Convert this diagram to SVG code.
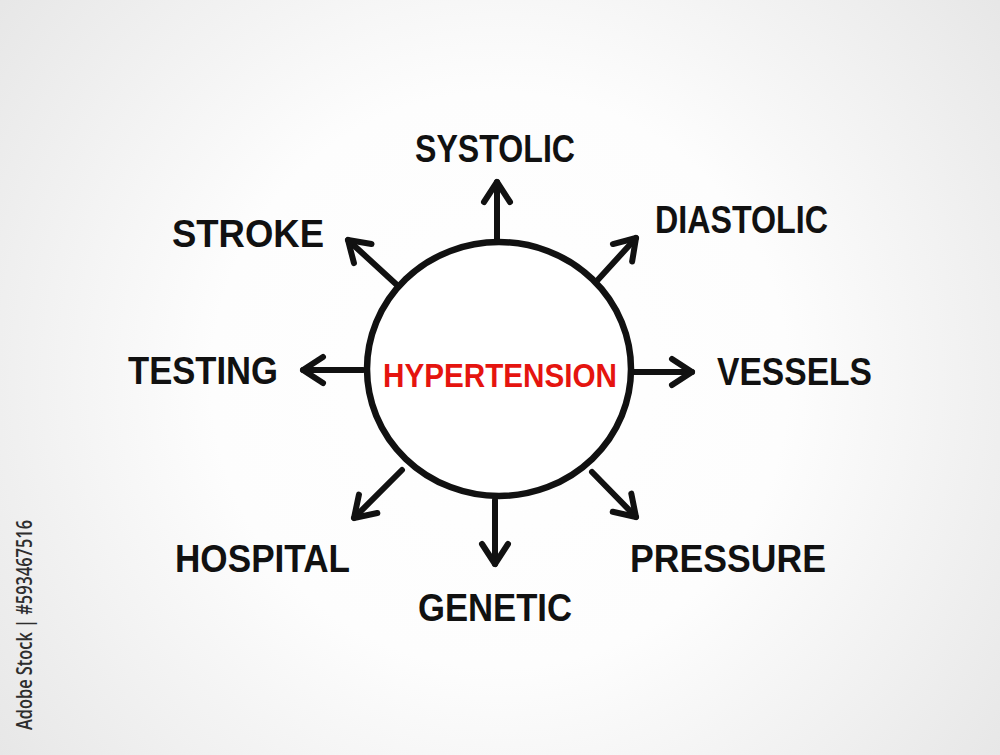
<svg xmlns="http://www.w3.org/2000/svg" width="1000" height="755" viewBox="0 0 1000 755">
  <defs>
    <radialGradient id="bg" cx="500" cy="380" r="640" gradientUnits="userSpaceOnUse">
      <stop offset="0" stop-color="#ffffff"/>
      <stop offset="0.45" stop-color="#fdfdfd"/>
      <stop offset="1" stop-color="#e6e6e6"/>
    </radialGradient>
    <marker id="head" markerUnits="userSpaceOnUse" viewBox="-30 -20 40 40" markerWidth="40" markerHeight="40" refX="0" refY="0" orient="auto">
      <path d="M -20 -13 L 0 0 L -20 13" fill="none" stroke="#111" stroke-width="6" stroke-linecap="round" stroke-linejoin="round"/>
    </marker>
    <style>
      .lbl { font-family: "Liberation Sans", "DejaVu Sans", sans-serif; font-weight: bold; font-size: 39px; fill: #111; }
      .center { font-family: "Liberation Sans", "DejaVu Sans", sans-serif; font-weight: bold; font-size: 34px; fill: #e5140f; }
      .arrow { fill: none; stroke: #111; stroke-width: 6; stroke-linecap: round; marker-end: url(#head); }
      .credit { font-family: "Open Sans", "DejaVu Sans", sans-serif; font-weight: 600; font-size: 22px; fill: #2e2e2e; }
    </style>
  </defs>

  <rect x="0" y="0" width="1000" height="755" fill="url(#bg)"/>

  <text class="credit" transform="translate(32,730) rotate(-90)" textLength="210" lengthAdjust="spacingAndGlyphs">Adobe Stock | #593467516</text>

  <g id="connectors">
    <path class="arrow" d="M 497 240 L 497 182"/>
    <path class="arrow" d="M 595 283 L 636 238"/>
    <path class="arrow" d="M 633 372 L 692 372"/>
    <path class="arrow" d="M 592 472 L 636 517"/>
    <path class="arrow" d="M 495 500 L 495 564"/>
    <path class="arrow" d="M 402 470 L 354 518"/>
    <path class="arrow" d="M 363 370 L 303 370"/>
    <path class="arrow" d="M 397 285 L 348 240"/>
  </g>

  <g id="hypertension">
    <ellipse cx="499" cy="369" rx="132" ry="127" fill="#ffffff" stroke="#111" stroke-width="6.5"/>
    <text class="center" x="383" y="387" textLength="234" lengthAdjust="spacingAndGlyphs">HYPERTENSION</text>
  </g>

  <g id="systolic">
    <text class="lbl" x="415" y="162" textLength="160" lengthAdjust="spacingAndGlyphs">SYSTOLIC</text>
  </g>
  <g id="diastolic">
    <text class="lbl" x="655" y="233" textLength="173" lengthAdjust="spacingAndGlyphs">DIASTOLIC</text>
  </g>
  <g id="vessels">
    <text class="lbl" x="717" y="385" textLength="155" lengthAdjust="spacingAndGlyphs">VESSELS</text>
  </g>
  <g id="pressure">
    <text class="lbl" x="630" y="572" textLength="196" lengthAdjust="spacingAndGlyphs">PRESSURE</text>
  </g>
  <g id="genetic">
    <text class="lbl" x="418" y="621" textLength="154" lengthAdjust="spacingAndGlyphs">GENETIC</text>
  </g>
  <g id="hospital">
    <text class="lbl" x="175" y="572" textLength="175" lengthAdjust="spacingAndGlyphs">HOSPITAL</text>
  </g>
  <g id="testing">
    <text class="lbl" x="128" y="384" textLength="150" lengthAdjust="spacingAndGlyphs">TESTING</text>
  </g>
  <g id="stroke">
    <text class="lbl" x="172" y="247" textLength="152" lengthAdjust="spacingAndGlyphs">STROKE</text>
  </g>
</svg>
